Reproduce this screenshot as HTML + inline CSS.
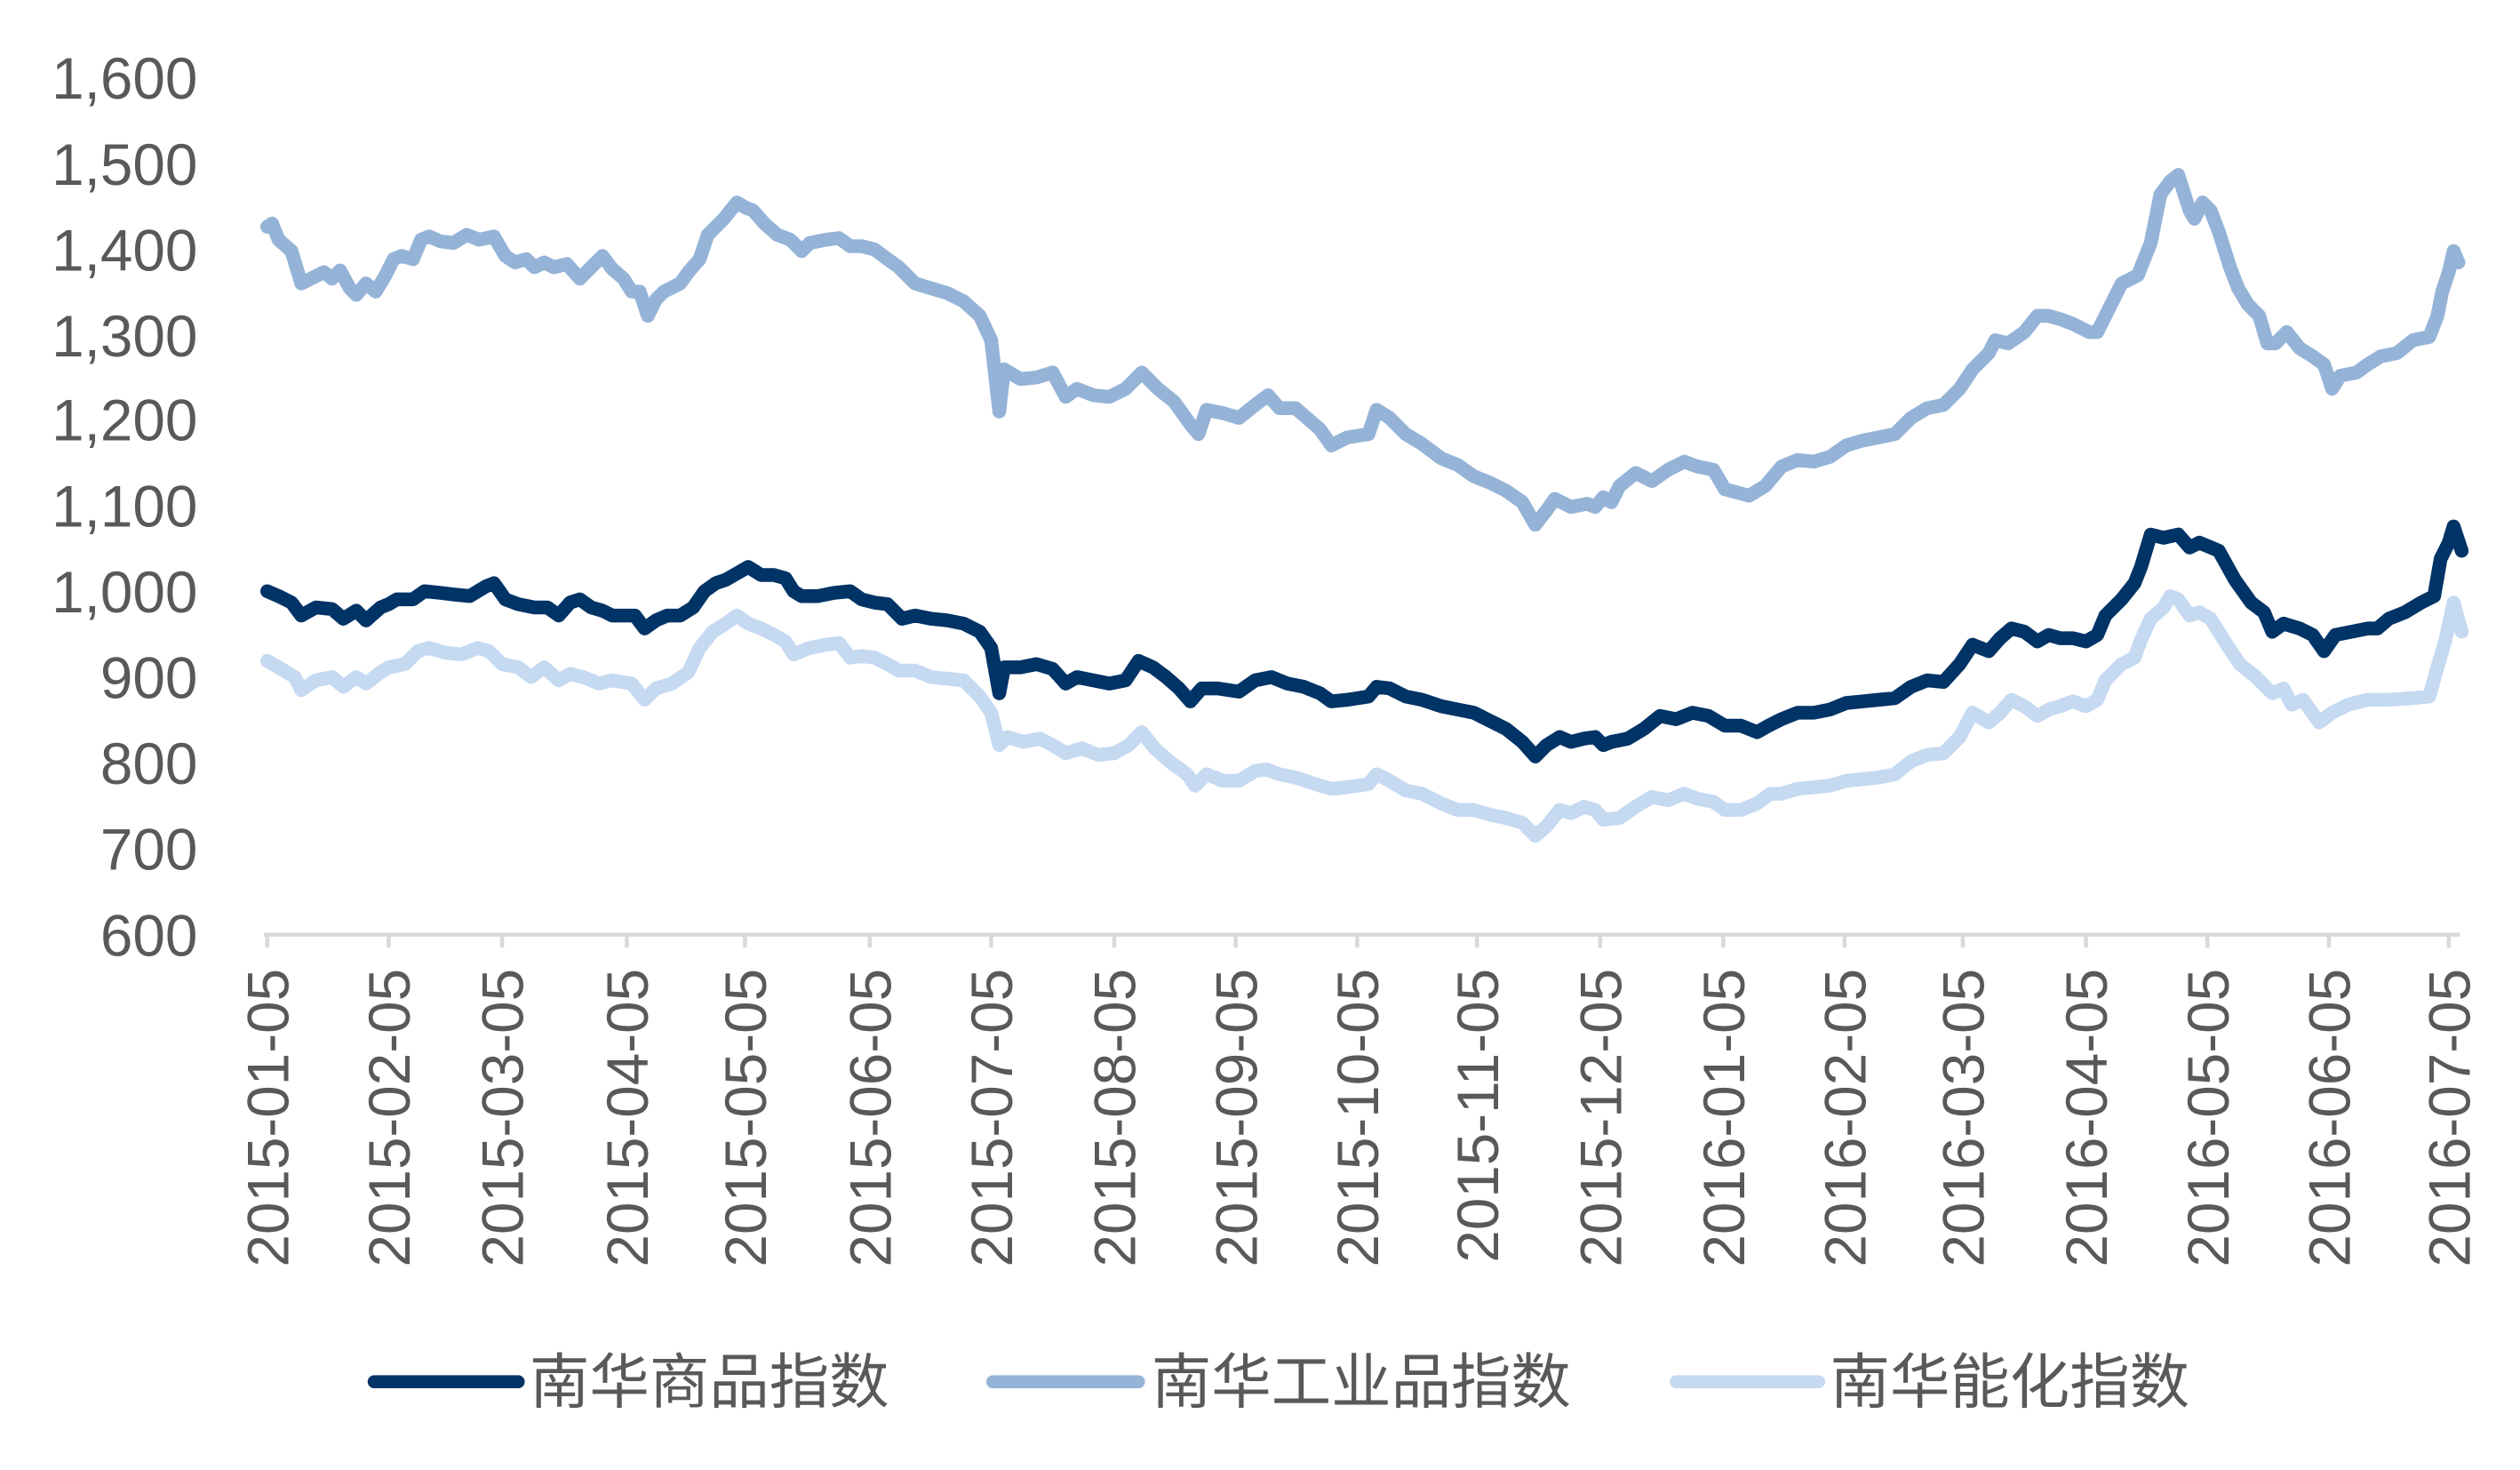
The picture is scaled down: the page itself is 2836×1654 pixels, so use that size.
<!DOCTYPE html>
<html><head><meta charset="utf-8"><style>
html,body{margin:0;padding:0;background:#fff;}
svg{display:block;}
text{font-family:"Liberation Sans","Noto Sans CJK SC",sans-serif;fill:#595959;}
</style></head><body>
<svg width="2836" height="1654" viewBox="0 0 1556 907.5" xmlns="http://www.w3.org/2000/svg">
<g font-size="36" text-anchor="end">
<text x="122" y="61">1,600</text>
<text x="122" y="114">1,500</text>
<text x="122" y="167">1,400</text>
<text x="122" y="220">1,300</text>
<text x="122" y="272">1,200</text>
<text x="122" y="325">1,100</text>
<text x="122" y="378">1,000</text>
<text x="122" y="431">900</text>
<text x="122" y="484">800</text>
<text x="122" y="537">700</text>
<text x="122" y="590">600</text>
</g>
<g stroke="#d9d9d9" stroke-width="2.5" fill="none">
<line x1="163" y1="577" x2="1519" y2="577"/>
<path d="M165 577v8M240 577v8M310 577v8M387 577v8M460 577v8M537 577v8M612 577v8M688 577v8M763 577v8M838 577v8M912 577v8M988 577v8M1064 577v8M1139 577v8M1212 577v8M1288 577v8M1363 577v8M1438 577v8M1512 577v8"/>
</g>
<g font-size="36" text-anchor="end">
<text transform="translate(178,598) rotate(-90)">2015-01-05</text>
<text transform="translate(253,598) rotate(-90)">2015-02-05</text>
<text transform="translate(323,598) rotate(-90)">2015-03-05</text>
<text transform="translate(400,598) rotate(-90)">2015-04-05</text>
<text transform="translate(473,598) rotate(-90)">2015-05-05</text>
<text transform="translate(550,598) rotate(-90)">2015-06-05</text>
<text transform="translate(625,598) rotate(-90)">2015-07-05</text>
<text transform="translate(701,598) rotate(-90)">2015-08-05</text>
<text transform="translate(776,598) rotate(-90)">2015-09-05</text>
<text transform="translate(851,598) rotate(-90)">2015-10-05</text>
<text transform="translate(925,598) rotate(-90)">2015-11-05</text>
<text transform="translate(1001,598) rotate(-90)">2015-12-05</text>
<text transform="translate(1077,598) rotate(-90)">2016-01-05</text>
<text transform="translate(1152,598) rotate(-90)">2016-02-05</text>
<text transform="translate(1225,598) rotate(-90)">2016-03-05</text>
<text transform="translate(1301,598) rotate(-90)">2016-04-05</text>
<text transform="translate(1376,598) rotate(-90)">2016-05-05</text>
<text transform="translate(1451,598) rotate(-90)">2016-06-05</text>
<text transform="translate(1525,598) rotate(-90)">2016-07-05</text>
</g>
<g fill="none" stroke-width="8.5" stroke-linejoin="round" stroke-linecap="round">
<polyline stroke="#95b3d7" points="165,140 168,138 172,148 180,155 186,175 192,172 200,168 205,172 210,167 216,178 220,182 226,175 232,180 238,170 243,160 248,158 255,160 260,148 265,146 272,149 280,150 288,145 296,148 305,146 312,158 318,162 325,160 330,165 336,162 342,165 350,163 358,172 365,165 372,158 378,166 385,172 390,180 395,180 400,195 405,185 410,180 420,175 425,168 432,160 437,145 442,140 447,135 455,125 460,128 465,130 472,138 480,145 488,148 495,155 500,150 510,148 518,147 525,152 532,152 540,154 548,160 555,165 565,175 575,178 585,181 595,186 605,195 612,210 617,254 620,228 630,234 640,233 650,230 658,245 665,240 675,244 685,245 695,240 705,230 715,240 725,248 735,262 740,268 745,253 755,255 765,258 775,250 783,244 790,252 800,252 815,265 822,275 832,270 845,268 850,253 858,258 868,268 878,274 890,283 900,287 910,294 920,298 930,303 940,310 948,324 955,315 960,308 970,313 980,311 985,313 990,307 995,310 1000,300 1010,292 1020,297 1030,290 1040,285 1048,288 1058,290 1065,302 1080,306 1090,300 1100,288 1110,284 1120,285 1130,282 1140,275 1150,272 1160,270 1170,268 1180,258 1190,252 1200,250 1210,240 1218,228 1228,218 1232,210 1240,212 1250,205 1258,195 1265,195 1272,197 1280,200 1290,205 1295,205 1300,195 1310,175 1320,170 1328,150 1334,120 1340,112 1345,108 1352,130 1355,135 1360,125 1365,130 1370,143 1377,165 1382,178 1388,188 1395,195 1400,212 1405,212 1412,205 1420,215 1428,220 1435,225 1440,240 1445,232 1455,230 1462,225 1470,220 1480,218 1490,210 1500,208 1505,195 1508,180 1512,168 1515,155 1518,162"/>
<polyline stroke="#c5d9f1" points="165,408 172,412 182,418 186,426 195,420 205,418 212,424 220,418 226,422 235,415 240,412 250,410 258,402 265,400 275,403 285,404 295,400 302,402 310,410 320,412 328,418 336,412 345,420 352,416 360,418 370,422 378,420 390,422 398,432 405,425 415,422 425,415 432,400 440,390 448,385 455,380 462,385 470,388 478,392 485,396 490,404 500,400 510,398 518,397 525,406 532,405 540,406 548,410 555,414 565,414 575,418 585,419 595,420 605,430 612,440 617,460 622,455 632,458 642,456 650,460 658,465 668,462 678,466 688,465 697,460 705,452 713,462 722,470 733,478 738,485 745,478 755,482 765,482 775,476 782,475 790,478 800,480 812,484 822,487 832,486 845,484 850,478 858,482 868,488 878,490 890,496 900,500 910,500 920,503 930,505 940,508 948,516 955,510 963,500 970,502 978,498 985,500 990,506 1000,505 1010,498 1020,492 1030,494 1040,490 1048,493 1058,495 1065,500 1075,500 1085,496 1093,490 1100,490 1110,487 1120,486 1130,485 1140,482 1150,481 1160,480 1170,478 1180,470 1190,466 1200,465 1210,455 1218,440 1228,446 1235,440 1242,432 1250,436 1258,442 1265,438 1272,436 1280,433 1288,436 1295,432 1300,420 1310,410 1318,406 1322,395 1328,382 1336,375 1340,368 1345,370 1352,380 1358,378 1365,382 1375,398 1383,410 1393,418 1403,428 1410,425 1415,435 1422,432 1432,446 1440,440 1450,435 1462,432 1475,432 1490,431 1500,430 1505,412 1510,395 1515,372 1520,390"/>
<polyline stroke="#003366" points="165,365 172,368 180,372 186,380 195,375 205,376 212,382 220,377 226,383 235,375 240,373 245,370 255,370 262,365 272,366 280,367 290,368 300,362 305,360 312,370 320,373 330,375 338,375 345,380 352,372 358,370 365,375 372,377 378,380 385,380 392,380 398,388 405,383 412,380 420,380 428,375 435,365 442,360 448,358 455,354 462,350 470,355 478,355 485,357 490,365 495,368 505,368 515,366 525,365 532,370 540,372 548,373 557,382 565,380 575,382 585,383 595,385 605,390 612,400 617,428 620,412 630,412 640,410 650,413 658,422 665,418 675,420 685,422 695,420 703,408 712,412 720,418 728,425 735,433 742,425 752,425 765,427 775,420 785,418 795,422 805,424 815,428 822,433 832,432 845,430 850,424 858,425 868,430 878,432 890,436 900,438 910,440 920,445 930,450 940,458 948,467 955,460 963,455 970,458 978,456 985,455 990,460 995,458 1005,456 1015,450 1025,442 1035,444 1045,440 1055,442 1065,448 1075,448 1085,452 1092,448 1100,444 1110,440 1120,440 1130,438 1140,434 1150,433 1160,432 1170,431 1180,424 1190,420 1200,421 1210,410 1218,398 1228,402 1235,394 1242,388 1250,390 1258,396 1265,392 1272,394 1280,394 1288,396 1295,392 1300,380 1310,370 1318,360 1322,350 1328,330 1336,332 1345,330 1352,338 1358,335 1370,340 1380,358 1390,372 1398,378 1403,390 1410,385 1420,388 1428,392 1435,402 1442,392 1452,390 1462,388 1468,388 1475,382 1485,378 1495,372 1503,368 1507,345 1512,335 1515,325 1520,340"/>
</g>
<g stroke-width="8" stroke-linecap="round">
<line x1="231" y1="853" x2="320" y2="853" stroke="#003366"/>
<line x1="613" y1="853" x2="703" y2="853" stroke="#95b3d7"/>
<line x1="1035" y1="853" x2="1123" y2="853" stroke="#c5d9f1"/>
</g>
<g font-size="37">
<text x="327" y="866">南华商品指数</text>
<text x="711" y="866">南华工业品指数</text>
<text x="1130" y="866">南华能化指数</text>
</g>
</svg>
</body></html>
